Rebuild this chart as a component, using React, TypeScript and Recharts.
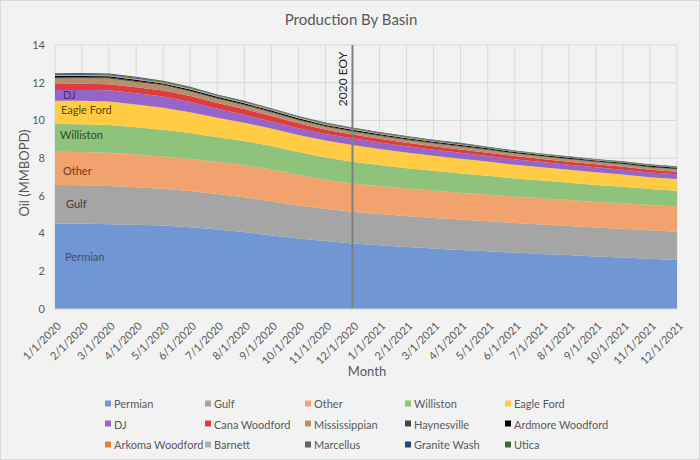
import React from 'react';
import { AreaChart, Area, XAxis, YAxis, CartesianGrid, ReferenceLine } from 'recharts';

const months = ['1/1/2020','2/1/2020','3/1/2020','4/1/2020','5/1/2020','6/1/2020','7/1/2020','8/1/2020','9/1/2020','10/1/2020','11/1/2020','12/1/2020','1/1/2021','2/1/2021','3/1/2021','4/1/2021','5/1/2021','6/1/2021','7/1/2021','8/1/2021','9/1/2021','10/1/2021','11/1/2021','12/1/2021'];

const permian = [4.54,4.53,4.50,4.47,4.43,4.34,4.22,4.08,3.90,3.74,3.60,3.48,3.38,3.29,3.21,3.13,3.06,2.99,2.92,2.86,2.79,2.73,2.66,2.60];
const gulf = [2.03,2.03,2.02,1.98,1.95,1.92,1.88,1.85,1.80,1.75,1.71,1.68,1.66,1.64,1.62,1.61,1.59,1.57,1.56,1.54,1.53,1.52,1.51,1.50];
const other = [1.77,1.77,1.77,1.74,1.71,1.71,1.71,1.71,1.70,1.63,1.55,1.50,1.48,1.46,1.45,1.43,1.42,1.40,1.39,1.38,1.37,1.36,1.34,1.33];
const williston = [1.47,1.47,1.47,1.45,1.42,1.36,1.30,1.27,1.24,1.20,1.17,1.15,1.11,1.08,1.05,1.02,0.99,0.96,0.94,0.91,0.89,0.87,0.85,0.84];
const eagleFord = [1.24,1.24,1.24,1.20,1.16,1.10,1.03,0.97,0.93,0.91,0.90,0.89,0.86,0.83,0.80,0.78,0.76,0.73,0.71,0.69,0.67,0.65,0.63,0.62];
const dj = [0.56,0.58,0.60,0.60,0.60,0.55,0.48,0.42,0.37,0.36,0.35,0.35,0.34,0.33,0.32,0.31,0.30,0.29,0.28,0.27,0.27,0.26,0.25,0.25];
const canaWoodford = [0.32,0.32,0.32,0.32,0.32,0.32,0.31,0.31,0.30,0.26,0.23,0.21,0.20,0.19,0.18,0.18,0.17,0.17,0.16,0.16,0.15,0.15,0.14,0.14];
const mississippian = [0.30,0.30,0.30,0.28,0.27,0.24,0.22,0.20,0.18,0.16,0.15,0.14,0.14,0.14,0.14,0.14,0.14,0.13,0.13,0.13,0.13,0.13,0.13,0.13];
const haynesville = [0.05,0.05,0.05,0.05,0.04,0.04,0.04,0.04,0.04,0.04,0.04,0.04,0.04,0.04,0.04,0.04,0.04,0.03,0.03,0.03,0.03,0.03,0.03,0.03];
const ardmoreWoodford = [0.07,0.07,0.07,0.07,0.06,0.06,0.06,0.06,0.06,0.06,0.06,0.06,0.06,0.06,0.06,0.06,0.05,0.05,0.05,0.05,0.05,0.05,0.05,0.05];
const arkomaWoodford = [0.02,0.02,0.02,0.02,0.02,0.02,0.02,0.02,0.02,0.02,0.02,0.02,0.01,0.01,0.01,0.01,0.01,0.01,0.01,0.01,0.01,0.01,0.01,0.01];
const barnett = [0.02,0.02,0.02,0.02,0.02,0.02,0.02,0.02,0.02,0.02,0.02,0.02,0.02,0.02,0.01,0.01,0.01,0.01,0.01,0.01,0.01,0.01,0.01,0.01];
const marcellus = [0.02,0.02,0.02,0.02,0.02,0.02,0.02,0.02,0.02,0.02,0.02,0.02,0.02,0.02,0.02,0.02,0.01,0.01,0.01,0.01,0.01,0.01,0.01,0.01];
const graniteWash = [0.04,0.04,0.04,0.04,0.03,0.03,0.03,0.03,0.03,0.03,0.03,0.03,0.03,0.03,0.03,0.03,0.02,0.02,0.02,0.02,0.02,0.02,0.02,0.02];
const utica = [0.05,0.05,0.05,0.05,0.05,0.05,0.04,0.04,0.04,0.04,0.04,0.04,0.04,0.04,0.04,0.04,0.04,0.04,0.03,0.03,0.03,0.03,0.03,0.03];

const yTicks = [0, 2, 4, 6, 8, 10, 12, 14];

const series = [
  { key: 'Permian', values: permian, color: '#7096D4' },
  { key: 'Gulf', values: gulf, color: '#A5A5A5' },
  { key: 'Other', values: other, color: '#F2A26C' },
  { key: 'Williston', values: williston, color: '#8FC27A' },
  { key: 'Eagle Ford', values: eagleFord, color: '#FFCC44' },
  { key: 'DJ', values: dj, color: '#9565C8' },
  { key: 'Cana Woodford', values: canaWoodford, color: '#DE3C3E' },
  { key: 'Mississippian', values: mississippian, color: '#B5906A' },
  { key: 'Haynesville', values: haynesville, color: '#444444' },
  { key: 'Ardmore Woodford', values: ardmoreWoodford, color: '#000000' },
  { key: 'Arkoma Woodford', values: arkomaWoodford, color: '#ED7D31' },
  { key: 'Barnett', values: barnett, color: '#B0B0B0' },
  { key: 'Marcellus', values: marcellus, color: '#636363' },
  { key: 'Granite Wash', values: graniteWash, color: '#264478' },
  { key: 'Utica', values: utica, color: '#43682B' },
];

const data = months.map((m, i) => {
  const row: any = { month: m };
  series.forEach(s => { row[s.key] = s.values[i]; });
  return row;
});

const FONT = 'Lato, "Open Sans", sans-serif';
const TXT = '#595959';

const XTick = (props: any) => {
  const { x, y, payload } = props;
  return (
    <g transform={`translate(${x + 4},${y + 7})`}>
      <text textAnchor="end" transform="rotate(-45)" fontSize={11} fill={TXT} fontFamily={FONT} dy="0.35em">
        {payload.value}
      </text>
    </g>
  );
};

const EOYLabel = (props: any) => {
  const vb = props.viewBox || {};
  const x = vb.x - 5;
  const y = (vb.y || 45) + 34;
  return (
    <text x={x} y={y} transform={`rotate(-90 ${x} ${y})`} textAnchor="middle" fontSize={12} fill="#262626" fontFamily={FONT}>
      2020 EOY
    </text>
  );
};

export default function App() {
  return (
    <div style={{ position: 'absolute', left: 0, top: 0, width: 700, height: 460, background: '#F2F2F2', boxSizing: 'border-box', border: '1px solid #D9D9D9', fontFamily: FONT }}>
      <div style={{ position: 'absolute', left: -1, top: -1 }}>
        <AreaChart width={700} height={460} data={data} margin={{ top: 45, right: 23, left: 0, bottom: 91 }}>
          <CartesianGrid stroke="#D9D9D9" vertical={true} horizontal={true} />
          <XAxis dataKey="month" interval={0} tick={<XTick />} tickLine={false} axisLine={{ stroke: '#D9D9D9' }} height={60} />
          <YAxis domain={[0, 14]} ticks={yTicks} width={55} axisLine={false} tickLine={false} tickSize={0} tickMargin={10}
            tick={{ fontSize: 11, fill: TXT, fontFamily: FONT }} />
          {series.map(s => (
            <Area key={s.key} type="linear" dataKey={s.key} stackId="1" stroke="none" fill={s.color} fillOpacity={1} isAnimationActive={false} />
          ))}
          <ReferenceLine x="12/1/2020" stroke="#7F7F7F" strokeWidth={2} label={<EOYLabel />} />
        </AreaChart>
      </div>
      {/* in-plot series labels */}
      <div style={{ position: 'absolute', left: 64, top: 249, fontSize: 11, color: '#3F4F6F' }}>Permian</div>
      <div style={{ position: 'absolute', left: 65, top: 196, fontSize: 11, color: '#404040' }}>Gulf</div>
      <div style={{ position: 'absolute', left: 62, top: 163, fontSize: 11, color: '#6B3A1E' }}>Other</div>
      <div style={{ position: 'absolute', left: 59, top: 127, fontSize: 11, color: '#2F4A25' }}>Williston</div>
      <div style={{ position: 'absolute', left: 60, top: 102, fontSize: 11, color: '#5A4A10' }}>Eagle Ford</div>
      <div style={{ position: 'absolute', left: 62, top: 87, fontSize: 11, color: '#4A2A6A' }}>DJ</div>
      {/* titles */}
      <div style={{ position: 'absolute', left: 0, width: 700, top: 9, textAlign: 'center', fontSize: 15, color: TXT }}>Production By Basin</div>
      <div style={{ position: 'absolute', left: 23, top: 172, transform: 'translate(-50%, -50%) rotate(-90deg)', fontSize: 13, color: TXT, whiteSpace: 'nowrap' }}>Oil (MMBOPD)</div>
      <div style={{ position: 'absolute', left: 366, top: 370, transform: 'translate(-50%, -50%)', fontSize: 13, color: TXT }}>Month</div>
      {/* legend */}
      {series.map((s, i) => {
        const col = i % 5;
        const row = Math.floor(i / 5);
        return (
          <div key={s.key} style={{ position: 'absolute', left: 104 + col * 100, top: 402 + row * 20.5, transform: 'translateY(-50%)', display: 'flex', alignItems: 'center', fontSize: 11, color: TXT, whiteSpace: 'nowrap' }}>
            <span style={{ display: 'inline-block', width: 6, height: 6, background: s.color, marginRight: 3 }} />
            {s.key}
          </div>
        );
      })}
    </div>
  );
}
